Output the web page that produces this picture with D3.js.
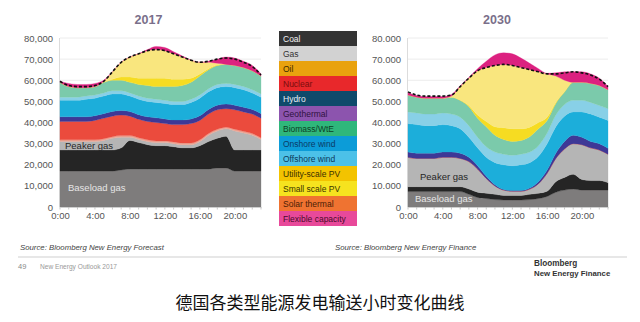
<!DOCTYPE html>
<html><head><meta charset="utf-8">
<script src="https://cdn.jsdelivr.net/npm/d3@7"></script>
<style>
html,body{margin:0;padding:0;background:#fff;}
svg{display:block;font-family:"Liberation Sans",Arial,sans-serif;}
</style></head>
<body>
<svg id="c" width="640" height="322"></svg>
<script>
// ---------- data (thousand MW, hourly 0:00 .. 23:00) ----------
const hours = [0,1,2,3,4,5,6,7,8,9,10,11,12,13,14,15,16,17,18,19,20,21,22,23];
const xTickHours = [0,4,8,12,16,20];
const xTickLabels = ["0:00","4:00","8:00","12:00","16:00","20:00"];
const yTicks = [0,10,20,30,40,50,60,70,80];

// 2017
const baseload2017 = [17,17,17,17,17,17,17,17.5,18,18,18,18,18,18,18,18,18,18,18.5,18.5,17,17,17,17];
const coal2017     = [10,10,10,10,10,10,10,10.5,13.5,12.5,11.5,11,11,10.5,10,10,11,13,14,15,10,10,10,10];
const peaker2017   = [4,4,4,4,4,4.5,5.5,5,1.5,1.5,1.5,1.5,1.5,1.5,1.5,1.5,2,3,3.5,3.5,9,8,7,5];
const oil2017      = [0.8,0.8,0.8,0.8,0.8,0.8,0.8,0.8,0.8,0.8,0.8,0.8,0.8,0.8,0.8,0.8,0.8,0.8,0.8,0.8,0.8,0.8,0.8,0.8];
const nuclear2017  = [8.7,8.7,8.7,8.7,9.2,9.7,9.7,9.7,9.2,8.7,8.7,8.7,8.2,8.2,8.7,9.2,9.2,9.2,9.2,8.7,9.2,9.2,9.2,9.2];
const hydro2017    = [2.2,2.2,2.2,2.2,2.2,2.2,2.2,2.2,2.2,2.2,2.2,2.2,2.2,2.2,2.2,2.2,2.2,2.2,2.2,2.2,2.2,2.2,2.2,2.2];
const onshore2017  = [7.8,7.8,7.8,8.3,8.3,8.3,8.3,7.8,7.3,7.3,7.3,7.3,7.3,7.3,7.3,7.8,8.3,8.3,8.3,8.3,8.3,8.3,7.8,7.8];
const offshore2017 = [1.5,1.5,1.5,1.5,1.5,1.5,1.5,1.5,1.5,1.5,1.5,1.5,1.5,1.5,1.5,1.5,1.5,1.5,1.5,1.5,1.5,1.5,1.5,1.5];
const biomass2017  = [7,5,4.5,4,4,5,5,5,5,5.5,6,6,6.5,7,7.5,8,9,9,9,9,9,9,9,8.5];
const utilityPV2017= [0,0,0,0,0,0,0.5,1.5,2.5,3,3.5,4,4,3.5,3,2,1,0.5,0.2,0,0,0,0,0];
const smallPV2017  = [0,0,0,0,0,0.5,3.5,7,9.5,11.5,13,13.5,13,12,10.5,8.5,5.5,3,0.8,0,0,0,0,0];
const flexible2017 = [0.5,1.5,1.5,1.5,1.5,0.5,0,0,0,0,0.5,1.5,1.5,1,0.5,0,0,0.5,2,3.5,3.5,3,2.5,1];
const demand2017   = [59.5,57.5,57,57,57.5,59.5,64,68.5,71,72.5,74,74.5,74,72.5,71,69.5,68.5,69,70,70.5,70,68.5,66.5,62.5];

// 2030
const baseload2030 = [7.3,7.3,7.3,7.3,7.3,7.3,7.3,6,4.5,4,3.5,3.3,3.3,3.3,3.5,4,5,7,8,8.5,8,8,8,8];
const coal2030     = [2.3,2.3,2.3,2.3,2.3,2.3,2.3,2.5,2.5,2.5,2.5,2.2,2.2,2.2,2.5,2.5,2.5,5,6,7,5,4.5,4.5,3.5];
const peaker2030   = [13.9,13.4,13.4,13.4,13.9,13.9,13.4,13,11,7,4,2.5,2,2,2.5,4.5,8.5,11,13.5,14.5,16.5,15.5,14.5,13.5];
const oil2030      = [0,0,0,0,0,0,0,0,0,0,0,0,0,0,0,0,0,0,0,0,0,0,0,0];
const nuclear2030  = [0,0,0,0,0,0,0,0,0,0,0,0,0,0,0,0,0,0,0,0,0,0,0,0];
const hydro2030    = [2.5,2.5,2.5,2.5,2.5,2.5,2.5,2,1.5,1,0.5,0.3,0.3,0.3,0.5,1,1.5,2.5,3.5,4,3.5,3,3,2.8];
const onshore2030  = [13.5,13.5,13,13,13,12.5,11.5,9.5,8.5,9,10.5,11.7,11.7,12.2,12,12,12.5,12.5,12,11,12,13,12.5,13.2];
const offshore2030 = [5.5,5.5,5.5,5.5,5.5,5.5,5.5,5.5,5,5,5,5,5,5,5,5,5,5.5,5.5,5.5,5.5,5.5,5.5,5.5];
const biomass2030  = [8,7.5,7.5,7.5,7,8,8,9,9,9.5,8,7,6.5,6.5,7.3,8,6,5.5,6,8.5,8.5,9,9.5,9];
const utilityPV2030= [0,0,0,0,0,0,0,0.5,1.5,2.5,4,5.5,6,5.5,4.5,3,1.5,0.5,0,0,0,0,0,0];
const smallPV2030  = [0,0,0,0,0,0.5,6.5,13,21,25.5,29,30,30,29,27.2,24,20.5,12.5,5.5,0,0,0,0,0];
const flexible2030 = [1.2,0.8,0.8,0.8,0.8,0.8,0.3,0.3,1,3,5,5.5,5.5,4.5,3,1.5,0.3,1.5,4,5,5,4.5,3.5,1.5];
const demand2030   = [54.5,53,52.5,52.5,52.5,53,57,61,64.5,66,67,67.5,67,66,65,64,63,63,63.5,64,63.5,62.5,60.5,57];

// stacking layers (bottom -> top) and their chart colours
const layerKeys   = ["baseload","coal","peaker","oil","nuclear","hydro","onshore","offshore","biomass","utilityPV","smallPV","flexible"];
const layerColors = ["#7e7c7c","#252525","#b5b5b5","#eba392","#eb4b3d","#3e3896","#1caeda","#88d0e7","#7bcaab","#f6dc22","#f9e67e","#dc2180"];

// legend
const legendNames  = ["Coal","Gas","Oil","Nuclear","Hydro","Geothermal","Biomass/WtE","Onshore wind","Offshore wind","Utility-scale  PV","Small scale  PV","Solar thermal","Flexible  capacity"];
const legendColors = ["#343434","#d2d2d2","#e9a20e","#e8282b","#0f4a6b","#8c54ae","#2fb77b","#0c9cd8","#4cc1e8","#f3c300","#f6e31f","#ef7331","#e8499a"];
const legendText   = ["#f2f2f2","#333","#3a2a00","#7a0d0d","#e8eef4","#2e1240","#0d3f25","#0b3a66","#0d3a5a","#3a3000","#3a3500","#4a1d05","#4a0c2a"];

// ---------- drawing ----------
const svg = d3.select("#c");
const y = d3.scaleLinear().domain([0,80]).range([207,38]);

function rowsFor(arrs){
  return hours.map((h,i)=>{
    const r = {hour:h};
    layerKeys.forEach((k,j)=>{ r[k] = arrs[j][i]; });
    return r;
  });
}

function panel(opt){
  const x = d3.scaleLinear().domain([0,23]).range([opt.x0,opt.x1]);
  const g = svg.append("g");
  // title
  g.append("text").attr("x",(opt.x0+opt.x1)/2 + opt.titleDx).attr("y",24)
    .attr("text-anchor","middle").attr("font-size",12.5).attr("font-weight","bold")
    .attr("fill","#7a6f8a").text(opt.title);
  // grid
  g.selectAll("line.grid").data(yTicks.slice(1)).join("line")
    .attr("x1",opt.x0).attr("x2",opt.x1).attr("y1",d=>y(d)).attr("y2",d=>y(d))
    .attr("stroke","#ececec").attr("stroke-width",1);
  g.append("line").attr("x1",opt.x0-0.5).attr("x2",opt.x0-0.5).attr("y1",38).attr("y2",207)
    .attr("stroke","#dcdcdc");
  // stacked areas
  const rows = rowsFor(opt.series);
  const stacked = d3.stack().keys(layerKeys)(rows);
  const area = d3.area().curve(d3.curveMonotoneX)
    .x(d=>x(d.data.hour)).y0(d=>y(d[0])).y1(d=>y(d[1]));
  g.selectAll("path.layer").data(stacked).join("path")
    .attr("d",area).attr("fill",(d,i)=>layerColors[i]).attr("stroke",(d,i)=>layerColors[i]).attr("stroke-width",0.3);
  // demand dashed line
  const line = d3.line().curve(d3.curveMonotoneX).x((d,i)=>x(hours[i])).y(d=>y(d));
  g.append("path").attr("d",line(opt.demand)).attr("fill","none")
    .attr("stroke","#111").attr("stroke-width",1.6).attr("stroke-dasharray","3,2");
  // y axis
  const fmt = d3.format(",");
  const ya = d3.axisLeft(y).tickValues(yTicks).tickSize(0).tickPadding(7)
    .tickFormat(d=>{ const s = fmt(d*1000); return opt.dot ? s.replace(/,/g,".") : s; });
  const yg = g.append("g").attr("transform",`translate(${opt.x0},0)`).call(ya);
  yg.select(".domain").remove();
  yg.selectAll("text").attr("font-size",9.5).attr("fill","#555").attr("font-family","Liberation Sans, Arial, sans-serif");
  // x axis
  const xa = d3.axisBottom(x).tickValues(xTickHours).tickSize(0).tickPadding(5)
    .tickFormat((d,i)=>xTickLabels[i]);
  const xg = g.append("g").attr("transform","translate(0,207)").call(xa);
  xg.select(".domain").attr("stroke","#cfcfcf");
  xg.selectAll("text").attr("font-size",9.5).attr("fill","#555").attr("font-family","Liberation Sans, Arial, sans-serif");
  g.selectAll("line.mt").data(hours).join("line")
    .attr("x1",d=>x(d)).attr("x2",d=>x(d)).attr("y1",207).attr("y2",209.5)
    .attr("stroke","#bbb").attr("stroke-width",0.8);
  // in-chart labels
  g.append("text").attr("x",opt.peakerPos[0]).attr("y",opt.peakerPos[1])
    .attr("font-size",9.5).attr("fill","#262626").text("Peaker gas");
  g.append("text").attr("x",opt.basePos[0]).attr("y",opt.basePos[1])
    .attr("font-size",9.5).attr("fill","#e6e6e6").text("Baseload gas");
}

panel({x0:60,x1:261,title:"2017",titleDx:-12,dot:false,
  series:[baseload2017,coal2017,peaker2017,oil2017,nuclear2017,hydro2017,onshore2017,offshore2017,biomass2017,utilityPV2017,smallPV2017,flexible2017],
  demand:demand2017, peakerPos:[65,149], basePos:[68,191]});
panel({x0:408,x1:608,title:"2030",titleDx:-11,dot:true,
  series:[baseload2030,coal2030,peaker2030,oil2030,nuclear2030,hydro2030,onshore2030,offshore2030,biomass2030,utilityPV2030,smallPV2030,flexible2030],
  demand:demand2030, peakerPos:[420,180], basePos:[415,202]});

// legend
const lg = svg.append("g");
legendNames.forEach((n,i)=>{
  lg.append("rect").attr("x",279).attr("y",31+i*15).attr("width",78).attr("height",15).attr("fill",legendColors[i]);
  lg.append("text").attr("x",283).attr("y",31+i*15+11).attr("font-size",8.5)
    .attr("fill",legendText[i]).text(n);
});

// footer
const ft = svg.append("g").attr("font-family","Liberation Sans, Arial, sans-serif");
ft.append("text").attr("x",20).attr("y",250).attr("font-size",7.8).attr("font-style","italic").attr("fill","#444")
  .text("Source: Bloomberg New Energy Forecast");
ft.append("text").attr("x",335).attr("y",250).attr("font-size",7.8).attr("font-style","italic").attr("fill","#444")
  .text("Source: Bloomberg New Energy Finance");
ft.append("line").attr("x1",18).attr("x2",627).attr("y1",257).attr("y2",257).attr("stroke","#cfcfcf").attr("stroke-width",1);
ft.append("text").attr("x",18).attr("y",269).attr("font-size",7.5).attr("fill","#888").text("49");
ft.append("text").attr("x",40).attr("y",269).attr("font-size",6.6).attr("fill","#999").text("New Energy Outlook 2017");
ft.append("text").attr("x",534).attr("y",266).attr("font-size",8.2).attr("font-weight","bold").attr("fill","#333").text("Bloomberg");
ft.append("text").attr("x",534).attr("y",276).attr("font-size",7.8).attr("font-weight","bold").attr("fill","#333").text("New Energy Finance");
svg.append("text").attr("x",320).attr("y",309).attr("text-anchor","middle")
  .attr("font-family","'Noto Sans CJK SC',sans-serif").attr("font-size",17).attr("fill","#111")
  .text("德国各类型能源发电输送小时变化曲线");
</script>
</body></html>
